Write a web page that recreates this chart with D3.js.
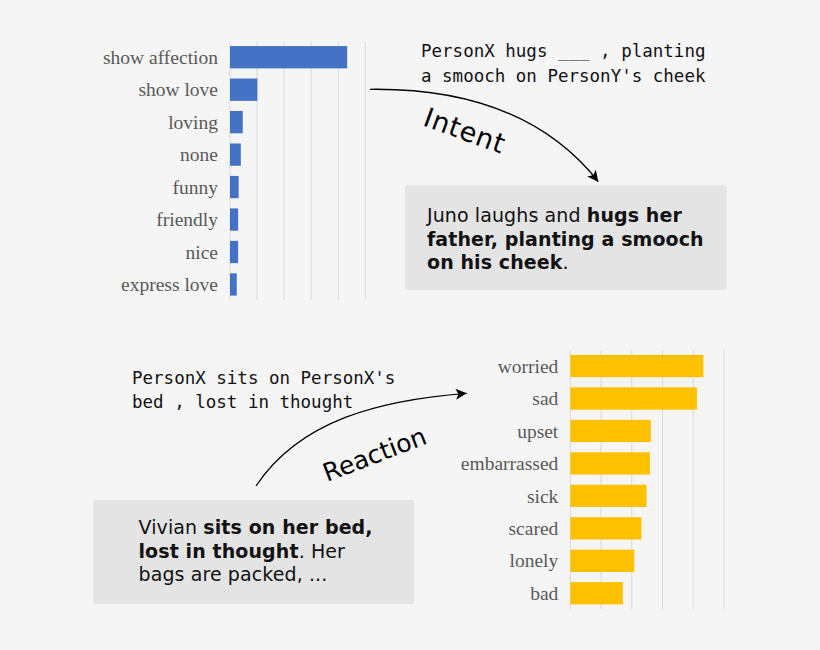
<!DOCTYPE html>
<html><head><meta charset="utf-8">
<script src="https://cdn.jsdelivr.net/npm/d3@7"></script>
<style>html,body{margin:0;padding:0;background:#f5f5f5;}</style>
</head><body>
<svg id="c" width="820" height="650"></svg>
<script>
const intentCats = ["show affection","show love","loving","none","funny","friendly","nice","express love"];
const intentVals = [0.433,0.101,0.047,0.040,0.032,0.030,0.030,0.025];
const intentTicks = [0,0.1,0.2,0.3,0.4,0.5];
const reactCats = ["worried","sad","upset","embarrassed","sick","scared","lonely","bad"];
const reactVals = [0.0433,0.0412,0.0262,0.0259,0.0248,0.0231,0.0208,0.0171];
const reactTicks = [0,0.01,0.02,0.03,0.04,0.05];

const svg = d3.select("#c");
svg.append("rect").attr("width",820).attr("height",650).attr("fill","#f5f5f5");

const defs = svg.append("defs");
defs.append("marker").attr("id","ah").attr("viewBox","0 0 10 10").attr("refX",10).attr("refY",5)
  .attr("markerWidth",15).attr("markerHeight",11).attr("markerUnits","userSpaceOnUse").attr("orient","auto")
  .append("path").attr("d","M0,0 L10,5 L0,10 L2.5,5 Z").attr("fill","#000");

function barChart(cats, vals, ticks, xr, yr, color){
  const x = d3.scaleLinear().domain([0, ticks[ticks.length-1]]).range(xr);
  const y = d3.scaleBand().domain(cats).range(yr).paddingInner(0.313).paddingOuter(0.1565);
  const g = svg.append("g");
  g.selectAll("line.grid").data(ticks).enter().append("line")
    .attr("x1",d=>x(d)).attr("x2",d=>x(d)).attr("y1",yr[0]+0.7).attr("y2",yr[1]-0.7)
    .attr("stroke","#d9d9d9").attr("stroke-width",1);
  g.selectAll("rect.bar").data(cats).enter().append("rect")
    .attr("x",x(0)).attr("y",d=>y(d)).attr("height",y.bandwidth())
    .attr("width",(d,i)=>x(vals[i])-x(0)).attr("fill",color);
  g.selectAll("text.lab").data(cats).enter().append("text")
    .attr("x",x(0)-12).attr("y",d=>y(d)+y.bandwidth()/2).attr("dy","0.34em")
    .attr("text-anchor","end").attr("fill","#595959")
    .style("font-family","'Liberation Serif','Times New Roman',serif").style("font-size","19.5px")
    .text(d=>d);
}
barChart(intentCats,intentVals,intentTicks,[230,365.3],[41,300.7],"#4472c4");
barChart(reactCats,reactVals,reactTicks,[570.3,724],[349.8,609.5],"#ffc000");

const mono = "'DejaVu Sans Mono',monospace";
function monoText(lines,x,y){
  const t = svg.append("text").style("font-family",mono).style("font-size","17.5px").attr("fill","#111");
  lines.forEach((l,i)=>t.append("tspan").attr("x",x).attr("y",y+i*24.5).text(l));
}
monoText(["PersonX hugs ___ , planting","a smooch on PersonY's cheek"],421,57);
monoText(["PersonX sits on PersonX's","bed , lost in thought"],132,383.5);

// boxes
function box(x,y,w,h,lines,tx,ty){
  svg.append("rect").attr("x",x).attr("y",y).attr("width",w).attr("height",h).attr("rx",3).attr("fill","#e4e4e4");
  const t = svg.append("text").style("font-family","'DejaVu Sans',Verdana,sans-serif").style("font-size","19px")
    .style("letter-spacing","0.1px").attr("fill","#111");
  lines.forEach((segs,i)=>{
    const ln = t.append("tspan").attr("x",tx).attr("y",ty+i*23.5);
    segs.forEach((s,j)=>{
      const sp = j===0 ? ln : t.append("tspan");
      sp.attr("font-weight",s[1]?"bold":"normal").text(s[0]);
    });
  });
}
box(405,185,321.7,105,[
  [["Juno laughs and ",0],["hugs her",1]],
  [["father, planting a smooch",1]],
  [["on his cheek",1],[".",0]]
],427,222);
box(93.3,500,321,104,[
  [["Vivian ",0],["sits on her bed,",1]],
  [["lost in thought",1],[". Her",0]],
  [["bags are packed, ...",0]]
],138.5,534);

// arrows
svg.append("path").attr("d","M370,89.3 C470,88 548,118 598.3,181.7").attr("fill","none")
  .attr("stroke","#000").attr("stroke-width",1.3).attr("marker-end","url(#ah)");
svg.append("path").attr("d","M256,486 C300,420 380,400 466.7,393.3").attr("fill","none")
  .attr("stroke","#000").attr("stroke-width",1.3).attr("marker-end","url(#ah)");

svg.append("text").attr("transform","translate(421.7,125) rotate(20)")
  .style("font-family","'DejaVu Sans',Verdana,sans-serif").style("font-size","27px").style("letter-spacing","0.8px")
  .attr("fill","#000").text("Intent");
svg.append("text").attr("transform","translate(327,482) rotate(-21)")
  .style("font-family","'DejaVu Sans',Verdana,sans-serif").style("font-size","25px").attr("fill","#000").text("Reaction");
</script>
</body></html>
